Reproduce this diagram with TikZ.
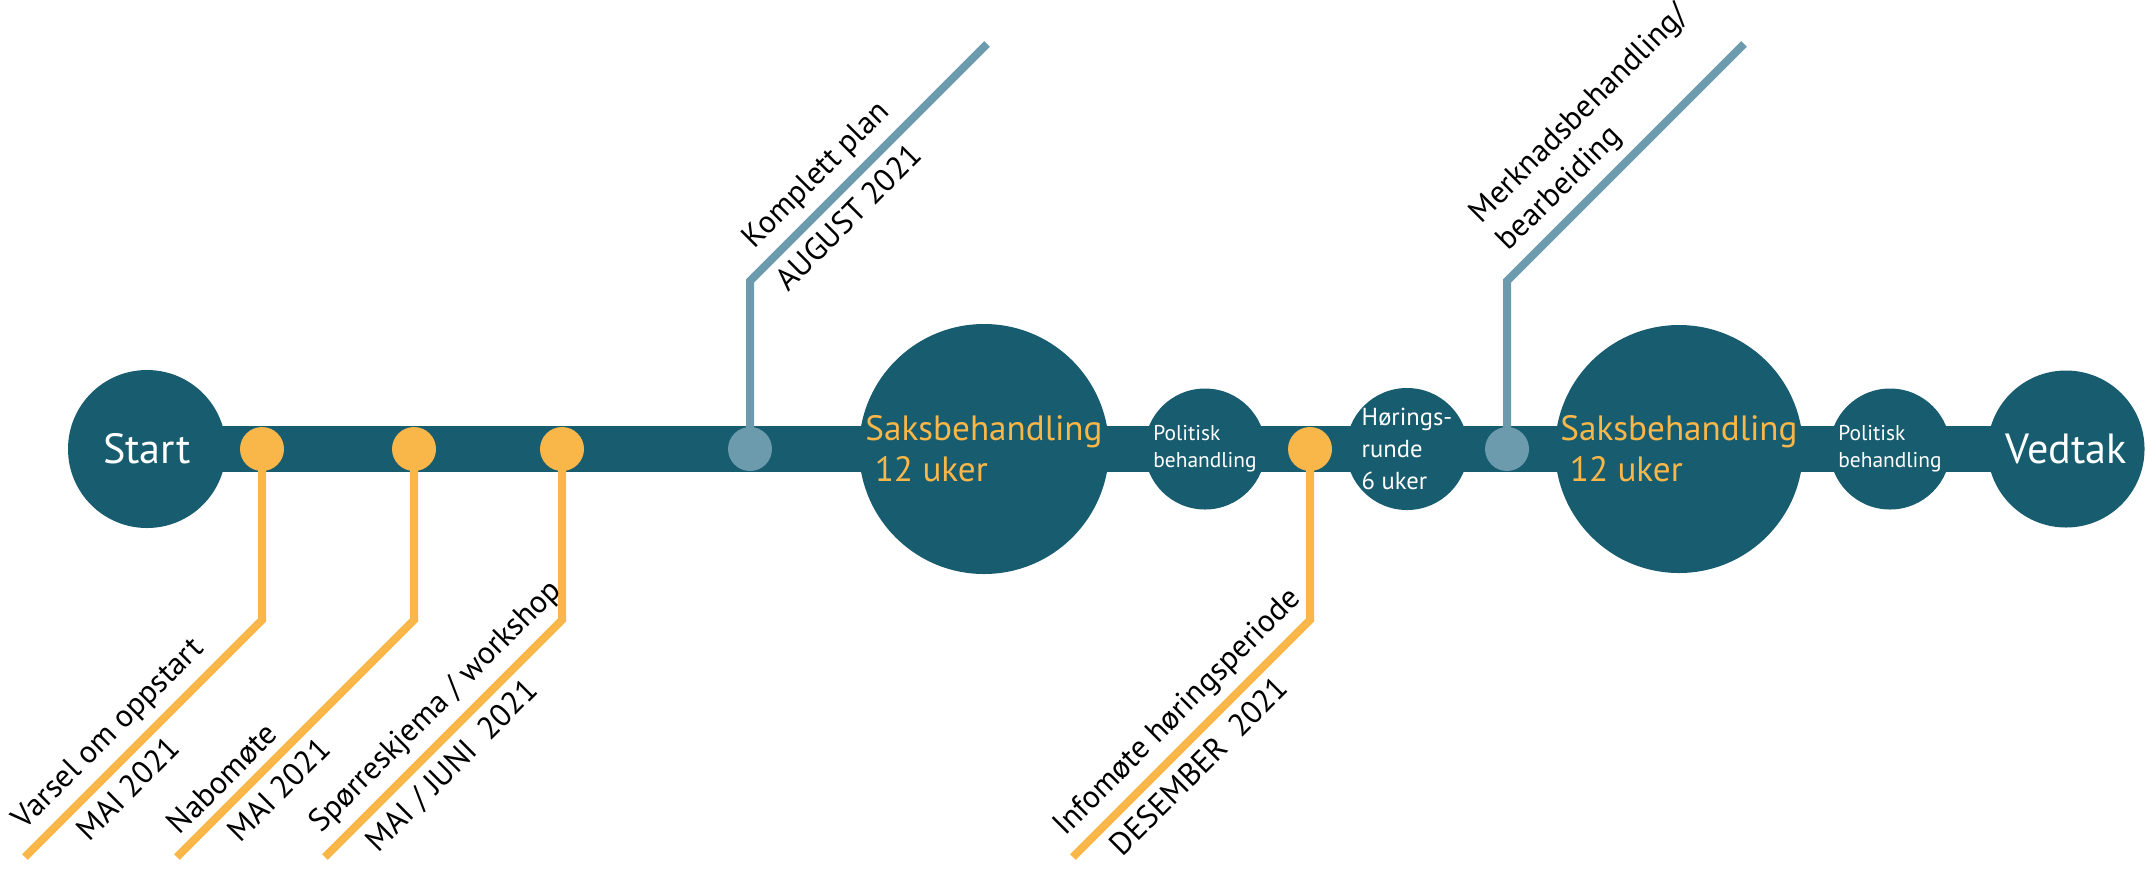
\documentclass[tikz,border=0pt]{standalone}
\usepackage{fontspec}
\setmainfont{PT Sans}
\usetikzlibrary{backgrounds}

\definecolor{planteal}{RGB}{23,92,111}
\definecolor{planorange}{RGB}{249,183,74}
\definecolor{planblue}{RGB}{107,155,173}

\begin{document}
\begin{tikzpicture}[stage/.style={circle, fill=planteal, text=white, inner sep=0pt, align=left},
  dot/.style={circle, inner sep=0pt, minimum size=0.44cm},
  stem/.style={line width=0.08cm},
  note/.style={font=\fontsize{9}{11}\selectfont, text=black, sloped, inner xsep=0pt, inner ysep=2.5pt}]
\useasboundingbox (0,-4.19) rectangle (21.46,4.49);

% stages
\node[stage, minimum size=1.58cm, font=\fontsize{12}{14}\selectfont] (start) at (1.47,0) {Start};
\node[stage, minimum size=2.50cm, text=planorange, font=\fontsize{10}{11.7}\selectfont] (saks1) at (9.84,0) {Saksbehandling\\~12 uker};
\node[stage, minimum size=1.21cm, font=\fontsize{6.1}{7.7}\selectfont] (pol1) at (12.05,0) {Politisk\\behandling};
\node[stage, minimum size=1.22cm, font=\fontsize{7}{9.1}\selectfont] (hor) at (14.07,0) {Hørings-\\runde\\6 uker};
\node[stage, minimum size=2.48cm, text=planorange, font=\fontsize{10}{11.7}\selectfont] (saks2) at (16.79,0) {Saksbehandling\\~12 uker};
\node[stage, minimum size=1.21cm, font=\fontsize{6.1}{7.7}\selectfont] (pol2) at (18.90,0) {Politisk\\behandling};
\node[stage, minimum size=1.57cm, font=\fontsize{12}{14}\selectfont] (vedtak) at (20.66,0) {Vedtak};

\begin{scope}[on background layer]
\draw[planteal, line width=0.46cm] (start.center) -- (vedtak.center);
\end{scope}

% milestones
\node[dot, fill=planorange] (d1) at (2.62,0) {};
\node[dot, fill=planorange] (d2) at (4.14,0) {};
\node[dot, fill=planorange] (d3) at (5.62,0) {};
\node[dot, fill=planblue] (b1) at (7.50,0) {};
\node[dot, fill=planorange] (d4) at (13.10,0) {};
\node[dot, fill=planblue] (b2) at (15.07,0) {};

\coordinate (c1) at (2.62,-1.71); \coordinate (e1) at (0.25,-4.08);
\coordinate (c2) at (4.14,-1.71); \coordinate (e2) at (1.77,-4.08);
\coordinate (c3) at (5.62,-1.71); \coordinate (e3) at (3.25,-4.08);
\coordinate (c4) at (13.10,-1.71); \coordinate (e4) at (10.73,-4.08);
\coordinate (bc1) at (7.50,1.68); \coordinate (be1) at (9.87,4.05);
\coordinate (bc2) at (15.07,1.68); \coordinate (be2) at (17.44,4.05);

\draw[stem, planorange] (d1.center) -- (c1) -- node[note, pos=0.955, anchor=south west] (n1a) {Varsel om oppstart}
  node[note, pos=0.845, anchor=north west] (n1b) {MAI 2021} (e1);
\draw[stem, planorange] (d2.center) -- (c2) -- node[note, pos=0.96, anchor=south west] (n2a) {Nabomøte}
  node[note, pos=0.85, anchor=north west] (n2b) {MAI 2021} (e2);
\draw[stem, planorange] (d3.center) -- (c3) -- node[note, pos=0.97, anchor=south west] (n3a) {Spørreskjema / workshop}
  node[note, pos=0.89, anchor=north west] (n3b) {MAI / JUNI~~2021} (e3);
\draw[stem, planorange] (d4.center) -- (c4) -- node[note, pos=0.985, anchor=south west] (n4a) {Infomøte høringsperiode}
  node[note, pos=0.907, anchor=north west] (n4b) {DESEMBER~~2021} (e4);
\draw[stem, planblue] (b1.center) -- (bc1) -- node[note, pos=0.066, anchor=south west] (m1a) {Komplett plan}
  node[note, pos=0.045, anchor=north west] (m1b) {AUGUST 2021} (be1);
\draw[stem, planblue] (b2.center) -- (bc2) -- node[note, pos=0.054, anchor=south west, align=left] (m2) {Merknadsbehandling/\\bearbeiding} (be2);
\end{tikzpicture}
\end{document}
